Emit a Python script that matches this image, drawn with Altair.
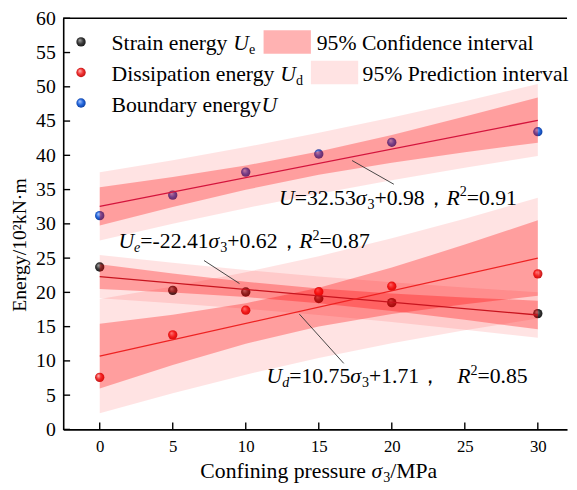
import altair as alt
import pandas as pd

# ---------------- data ----------------
X_PTS = [0, 5, 10, 15, 20, 30]
UE_PTS = [23.7, 20.3, 20.05, 19.1, 18.5, 16.9]     # strain energy
UD_PTS = [7.6, 13.8, 17.4, 20.1, 20.9, 22.7]       # dissipation energy
U_PTS = [31.2, 34.2, 37.55, 40.2, 41.9, 43.45]     # boundary energy

FIT_X = [0, 30]
U_FIT = [32.55, 45.1]
UE_FIT = [22.3, 16.7]
UD_FIT = [10.7, 25.0]

BAND_X = [0, 5, 10, 15, 20, 25, 30]
U_CONF_LO = [29.75, 32.45, 34.98, 37.15, 38.93, 40.45, 41.85]
U_CONF_HI = [35.35, 36.85, 38.52, 40.55, 42.97, 45.65, 48.45]
U_PRED_LO = [27.58, 30.0, 32.29, 34.41, 36.38, 38.2, 39.89]
U_PRED_HI = [37.52, 39.3, 41.21, 43.29, 45.52, 47.9, 50.41]
UE_CONF_LO = [20.51, 19.98, 19.31, 18.42, 17.29, 15.99, 14.62]
UE_CONF_HI = [24.09, 22.76, 21.55, 20.58, 19.85, 19.27, 18.78]
UE_PRED_LO = [19.15, 18.42, 17.6, 16.69, 15.67, 14.55, 13.37]
UE_PRED_HI = [25.45, 24.32, 23.26, 22.31, 21.47, 20.71, 20.03]
UD_CONF_LO = [5.98, 9.41, 12.51, 15.01, 16.84, 18.27, 19.49]
UD_CONF_HI = [15.42, 16.75, 18.43, 20.69, 23.62, 26.97, 30.51]
UD_PRED_LO = [2.37, 5.29, 7.99, 10.42, 12.57, 14.49, 16.19]
UD_PRED_HI = [19.03, 20.87, 22.95, 25.28, 27.89, 30.75, 33.81]

X_TICKS = [0, 5, 10, 15, 20, 25, 30]
Y_TICKS = [0, 5, 10, 15, 20, 25, 30, 35, 40, 45, 50, 55, 60]

# ---------------- layout ----------------
W, H = 511, 417
XMIN, XMAX = -2.5, 32.0
YMIN, YMAX = 0, 60
PXX = W / (XMAX - XMIN)
PXY = H / (YMAX - YMIN)
FONT = "Liberation Serif"

TIMES = {" ": 250, ".": 250, ",": 250, "=": 564, "+": 564, "-": 333, "%": 833,
         "/": 278, "·": 250, "，": 1000, "σ": 540,
         "a": 444, "b": 500, "c": 444, "d": 500, "e": 444, "f": 333, "g": 500, "h": 500,
         "i": 278, "k": 500, "l": 278, "m": 778, "n": 500, "o": 500, "p": 500, "r": 333,
         "s": 389, "t": 278, "u": 500, "v": 500, "y": 500,
         "B": 667, "C": 667, "D": 722, "M": 889, "P": 556, "S": 556, "U": 722, "R": 667}
ITAL = {"U": 722, "R": 611, "e": 444, "d": 500, "σ": 540}


def tw(s, italic):
    tot = 0
    for ch in s:
        if ch.isdigit():
            tot += 500
        elif italic and ch in ITAL:
            tot += ITAL[ch]
        else:
            tot += TIMES.get(ch, 500)
    return tot / 1000.0


def segments(segs, x0, y0, size):
    rows, cur = [], 0.0
    for txt, st in segs:
        small = st in ("sub", "isub", "sup")
        fs = size * 0.65 if small else size
        italic = st in ("i", "isub")
        shift = -0.2 * size if st in ("sub", "isub") else (0.38 * size if st == "sup" else 0)
        rows.append({"x": x0 + cur / PXX, "y": y0 + shift / PXY, "text": txt,
                     "italic": italic, "fs": fs})
        cur += tw(txt, italic) * fs
    return rows


text_rows = []
# legend texts
text_rows += segments([("Strain energy ", "n"), ("U", "i"), ("e", "sub")], 0.81, 55.44, 22)
text_rows += segments([("Dissipation energy ", "n"), ("U", "i"), ("d", "sub")], 0.81, 50.89, 22)
text_rows += segments([("Boundary energy", "n"), ("U", "i")], 0.81, 46.33, 22)
text_rows += segments([("95% Confidence interval", "n")], 14.86, 55.44, 22)
text_rows += segments([("95% Prediction interval", "n")], 18.0, 50.89, 22)
# fit annotations
text_rows += segments([("U", "i"), ("=32.53", "n"), ("σ", "i"), ("3", "sub"), ("+0.98，", "n"),
                       ("R", "i"), ("2", "sup"), ("=0.91", "n")], 12.28, 32.8, 22)
text_rows += segments([("U", "i"), ("e", "isub"), ("=-22.41", "n"), ("σ", "i"), ("3", "sub"),
                       ("+0.62，", "n"), ("R", "i"), ("2", "sup"), ("=0.87", "n")], 1.28, 26.47, 22)
text_rows += segments([("U", "i"), ("d", "isub"), ("=10.75", "n"), ("σ", "i"), ("3", "sub"),
                       ("+1.71，   ", "n"), ("R", "i"), ("2", "sup"), ("=0.85", "n")], 11.42, 6.76, 22)
# x axis title
text_rows += segments([("Confining pressure ", "n"), ("σ", "i"), ("3", "sub"), ("/MPa", "n")],
                      6.89, -7.1, 22)
text_df = pd.DataFrame(text_rows)

pts_df = pd.DataFrame({"x": X_PTS * 3, "y": UE_PTS + UD_PTS + U_PTS,
                       "series": ["Ue"] * 6 + ["Ud"] * 6 + ["U"] * 6})
legend_pts = pd.DataFrame({"x": [-1.28] * 3, "y": [56.55, 52.09, 47.63], "series": ["Ue", "Ud", "U"]})
pts_all = pd.concat([pts_df, legend_pts], ignore_index=True)

fit_df = pd.DataFrame({"x": FIT_X * 3, "y": U_FIT + UE_FIT + UD_FIT,
                       "series": ["U"] * 2 + ["Ue"] * 2 + ["Ud"] * 2})

band_df = pd.DataFrame({
    "x": BAND_X * 3,
    "clo": U_CONF_LO + UE_CONF_LO + UD_CONF_LO,
    "chi": U_CONF_HI + UE_CONF_HI + UD_CONF_HI,
    "plo": U_PRED_LO + UE_PRED_LO + UD_PRED_LO,
    "phi": U_PRED_HI + UE_PRED_HI + UD_PRED_HI,
    "series": ["U"] * 7 + ["Ue"] * 7 + ["Ud"] * 7,
})

leader_df = pd.DataFrame({"x": [17.28, 7.14, 13.67], "y": [39.24, 24.65, 16.83],
                          "x2": [20.14, 9.57, 16.71], "y2": [35.78, 21.29, 9.64]})

swatch_df = pd.DataFrame({"x": [11.22, 14.46], "x2": [14.46, 17.7],
                          "y": [58.27, 53.81], "y2": [54.82, 50.36], "op": [0.3, 0.11]})

xscale = alt.Scale(domain=[XMIN, XMAX], nice=False, zero=False)
yscale = alt.Scale(domain=[YMIN, YMAX], nice=False, zero=False)
xaxis = alt.Axis(values=X_TICKS, labelFontSize=17, labelFont=FONT, labelColor="black",
                 ticks=False, tickSize=0, domainColor="black", domainWidth=1.6, grid=False,
                 title=None, labelPadding=9)
yaxis = alt.Axis(values=Y_TICKS, labelFontSize=20, labelFont=FONT, labelColor="black",
                 ticks=False, tickSize=0, domainColor="black", domainWidth=1.6, grid=False,
                 title=None, labelPadding=8)


def X(f):
    return alt.X(f, type="quantitative", scale=xscale, axis=xaxis)


def Y(f):
    return alt.Y(f, type="quantitative", scale=yscale, axis=yaxis)


def grad(hi, base, edge):
    return {"gradient": "radial", "x1": 0.35, "y1": 0.3, "r1": 0, "x2": 0.5, "y2": 0.5, "r2": 0.55,
            "stops": [{"offset": 0, "color": hi}, {"offset": 0.55, "color": base},
                      {"offset": 1, "color": edge}]}


def point_layer(series, g):
    return alt.Chart(pts_all).transform_filter(alt.datum.series == series).mark_circle(
        size=90, fill=g, opacity=1).encode(x=X("x"), y=Y("y"))


pts_ue = point_layer("Ue", grad("#a8a8a8", "#3a3a3a", "#151515"))
pts_ud = point_layer("Ud", grad("#ffc0c0", "#f03030", "#b81010"))
pts_u = point_layer("U", grad("#b0ccff", "#2266dd", "#0c3a96"))

pred = alt.Chart(band_df).mark_area(color="#ff0000", opacity=0.11).encode(
    x=X("x"), y=Y("plo"), y2="phi", detail="series:N")
conf = alt.Chart(band_df).mark_area(color="#ff0000", opacity=0.3).encode(
    x=X("x"), y=Y("clo"), y2="chi", detail="series:N")

fits = alt.Chart(fit_df).mark_line(strokeWidth=1.3).encode(
    x=X("x"), y=Y("y"),
    color=alt.Color("series:N", scale=alt.Scale(domain=["U", "Ue", "Ud"],
                                                range=["#d4143c", "#c8141e", "#ee2222"]),
                    legend=None))

leaders = alt.Chart(leader_df).mark_rule(color="#333333", strokeWidth=0.9).encode(
    x=X("x"), y=Y("y"), x2="x2", y2="y2")

swatches = alt.Chart(swatch_df).mark_rect(color="#ff0000").encode(
    x=X("x"), x2="x2", y=Y("y"), y2="y2", opacity=alt.Opacity("op:Q", scale=None))

txt_base = alt.Chart(text_df)
txt_n = txt_base.transform_filter("!datum.italic").mark_text(
    align="left", baseline="alphabetic", font=FONT, color="black").encode(
    x=X("x"), y=Y("y"), text="text:N", size=alt.Size("fs:Q", scale=None))
txt_i = txt_base.transform_filter("datum.italic").mark_text(
    align="left", baseline="alphabetic", font=FONT, fontStyle="italic", color="black").encode(
    x=X("x"), y=Y("y"), text="text:N", size=alt.Size("fs:Q", scale=None))

ytitle = alt.Chart(pd.DataFrame({"t": ["Energy/10²kN·m"]})).mark_text(
    angle=270, font=FONT, fontSize=20, align="center", baseline="middle", color="black").encode(
    x=alt.value(-44), y=alt.value(230), text="t:N")

xt = alt.Chart(pd.DataFrame({"v": X_TICKS})).mark_rule(color="black", strokeWidth=1.4).encode(
    x=X("v"), y=alt.value(H), y2=alt.value(H - 7))
yt = alt.Chart(pd.DataFrame({"v": Y_TICKS})).mark_rule(color="black", strokeWidth=1.4).encode(
    y=Y("v"), x=alt.value(0), x2=alt.value(7))
top = alt.Chart(pd.DataFrame({"v": [YMAX]})).mark_rule(color="black", strokeWidth=1.6).encode(
    y=Y("v"), x=alt.value(0), x2=alt.value(W))

chart = alt.layer(
    pts_ue, pts_ud, pts_u, pred, conf, fits, leaders, swatches, txt_n, txt_i, ytitle, xt, yt, top
).properties(
    width=W, height=H,
    padding={"left": 56, "top": 7, "right": 2, "bottom": 57},
    autosize=alt.AutoSizeParams(type="none"),
).configure_view(stroke="transparent")

chart.save("out.html", embed_options={"renderer": "svg", "actions": False})
